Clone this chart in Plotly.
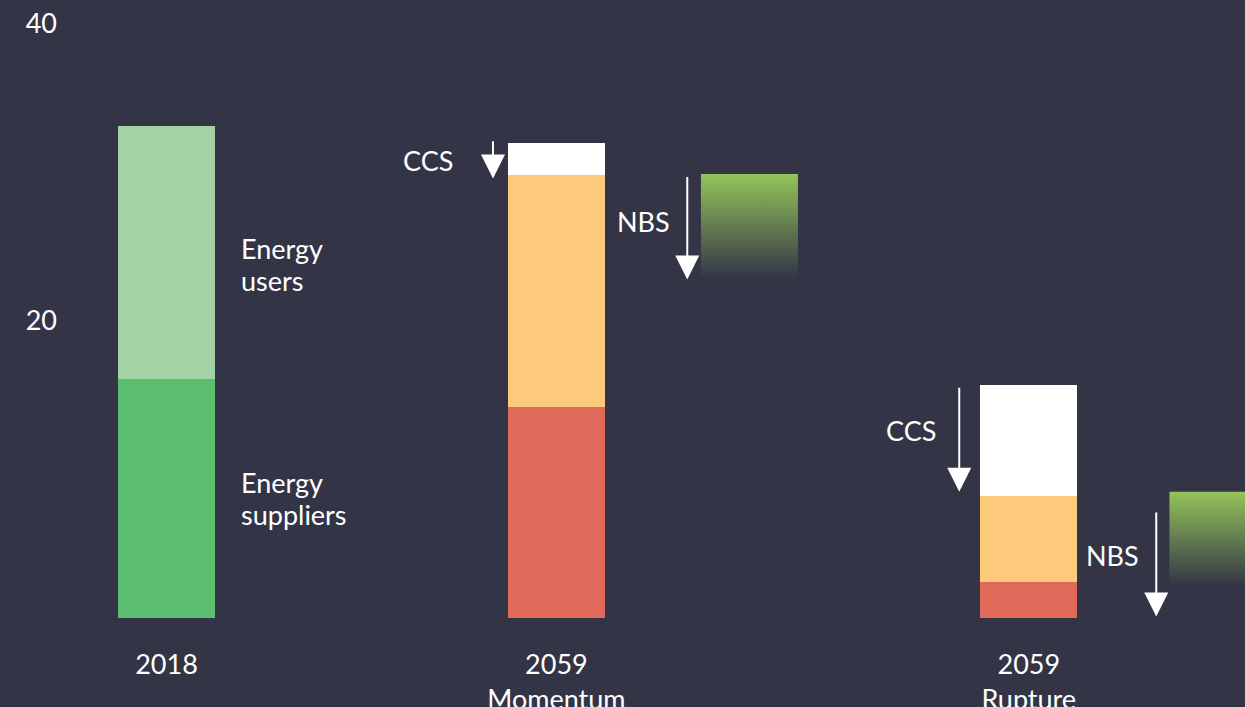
import plotly.graph_objects as go

# emissions by scenario
scenarios = ["2018", "2059<br>Momentum", "2059<br>Rupture"]
scen_x = [0, 4.02, 8.89]
suppliers = [16.1, 14.2, 2.4]
users = [17.0, 15.6, 5.8]
ccs_x = [4.02, 8.89]
ccs = [2.2, 7.5]

# nature based solutions boxes (top value and fade length)
nbs_x = [6.01, 10.84]
nbs_top = [29.9, 8.5]
nbs_len = [7.0, 6.3]

# arrows: x, start value, end value
arrow_x = [3.366, 5.369, 8.173, 10.204]
arrow_from = [32.2, 29.8, 15.6, 7.2]
arrow_to = [29.6, 22.8, 8.5, 0.1]

# labels
label_text = ["CCS", "NBS", "CCS", "NBS"]
label_x = [2.974, 5.211, 7.954, 10.047]
label_y = [30.8, 26.7, 12.6, 4.2]

# side labels for the 2018 bar, one entry per line
side_text = ["Energy", "users", "Energy", "suppliers"]
side_y = [24.85, 22.75, 9.1, 6.95]

BG = "#333546"
FONT = "Lato"
FS = 27

fig = go.Figure()
fig.add_trace(go.Bar(x=scen_x, y=suppliers, width=1,
                     marker=dict(color=["#5bbd6e", "#e06a5a", "#e06a5a"], line_width=0)))
fig.add_trace(go.Bar(x=scen_x, y=users, width=1,
                     marker=dict(color=["#a3d2a6", "#fdc97a", "#fdc97a"], line_width=0)))
fig.add_trace(go.Bar(x=ccs_x, y=ccs, width=1,
                     marker=dict(color="#ffffff", line_width=0)))

for cx, top, ln in zip(nbs_x, nbs_top, nbs_len):
    x0, x1 = cx - 0.5, cx + 0.5
    y0 = top - ln
    fig.add_trace(go.Scatter(
        x=[x0, x1, x1, x0, x0], y=[y0, y0, top, top, y0],
        mode="lines", line_width=0, fill="toself",
        fillgradient=dict(type="vertical", colorscale=[[0, BG], [1, "#94c45a"]]),
        hoverinfo="skip"))

for ax_, y0, y1 in zip(arrow_x, arrow_from, arrow_to):
    fig.add_annotation(x=ax_, y=y1, ax=ax_, ay=y0, xref="x", yref="y",
                       axref="x", ayref="y", text="", showarrow=True,
                       arrowhead=2, arrowsize=2.4, arrowwidth=2, arrowcolor="white")

for t, lx, ly in zip(label_text, label_x, label_y):
    fig.add_annotation(x=lx, y=ly, text=t, showarrow=False, xanchor="right",
                       font=dict(color="white", size=FS, family=FONT))

for t, ly in zip(side_text, side_y):
    fig.add_annotation(x=0.75, y=ly, text=t, showarrow=False, xanchor="left",
                       font=dict(color="white", size=FS, family=FONT))

fig.update_layout(
    width=1245, height=707, barmode="stack", showlegend=False,
    paper_bgcolor=BG, plot_bgcolor=BG,
    margin=dict(l=62, r=0, t=24, b=89),
    font=dict(family=FONT, color="white", size=FS),
    xaxis=dict(range=[-1.077, 11.119], tickvals=scen_x, ticktext=scenarios,
               showgrid=False, zeroline=False, showline=False, ticks="",
               ticklabelstandoff=28, automargin=False),
    yaxis=dict(range=[0, 40], tickvals=[20, 40], showgrid=False, zeroline=False,
               showline=False, ticks="", ticklabelstandoff=4, automargin=False),
)

fig.write_html("out.html", config={"displayModeBar": False},
               post_script="document.body.style.margin='0';")
